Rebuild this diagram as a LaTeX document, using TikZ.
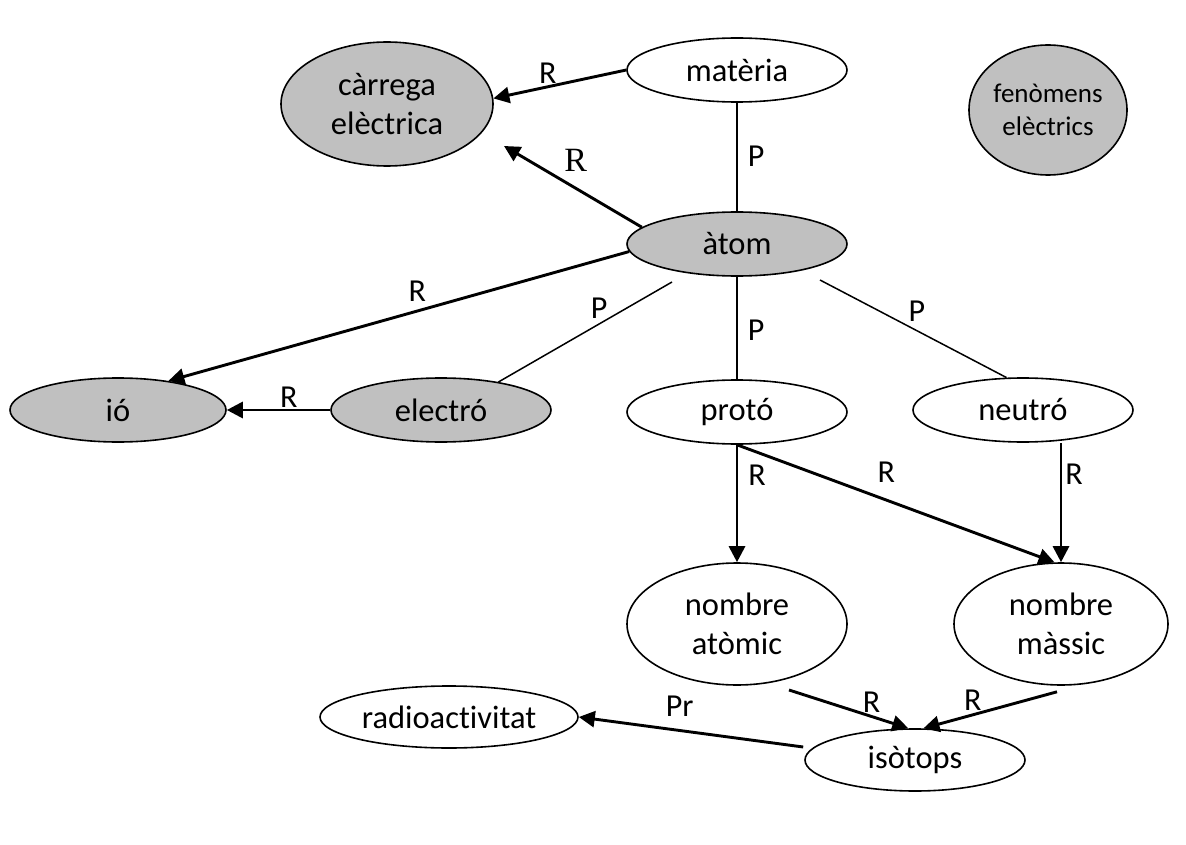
\documentclass[tikz,border=0pt]{standalone}
\usepackage{fontspec}
\setmainfont[Ligatures=NoCommon]{Carlito}
\newfontfamily\timesR{Liberation Serif}
\usetikzlibrary{shapes.geometric,arrows.meta,calc}
\definecolor{conceptgray}{RGB}{192,192,192}
\begin{document}
\begin{tikzpicture}[x=1pt,y=-1pt,
  concept/.style={ellipse,draw=black,line width=1.6pt,inner sep=0pt,align=center,
    font=\fontsize{32.5}{39}\selectfont},
  keyc/.style={concept,fill=conceptgray},
  openc/.style={concept,fill=white},
  rel/.style={line width=2.9pt,-{Triangle[length=16pt,width=16pt]}},
  part/.style={line width=1.5pt},
  lbl/.style={font=\fontsize{32}{36}\selectfont,inner sep=1pt},
]
\path[use as bounding box] (0,0) rectangle (1186,845);

% concepts
\node[keyc,minimum width=212pt,minimum height=124pt] (carrega) at (387,104) {càrrega\\elèctrica};
\node[openc,minimum width=220pt,minimum height=64pt] (matter) at (737,70) {matèria};
\node[keyc,minimum width=158pt,minimum height=130pt,font=\fontsize{27}{33}\selectfont] (fenomens) at (1048,110) {fenòmens\\elèctrics};
\node[keyc,minimum width=220pt,minimum height=64pt] (atom) at (737,244) {àtom};
\node[keyc,minimum width=216pt,minimum height=64pt] (io) at (118,410) {ió};
\node[keyc,minimum width=220pt,minimum height=64pt] (electron) at (441,410) {electró};
\node[openc,minimum width=220pt,minimum height=64pt] (proton) at (737,412) {protó};
\node[openc,minimum width=220pt,minimum height=64pt] (neutron) at (1023,410) {neutró};
\node[openc,minimum width=220pt,minimum height=122pt] (natomic) at (737,624) {nombre\\atòmic};
\node[openc,minimum width=214pt,minimum height=122pt] (nmassic) at (1061,624) {nombre\\màssic};
\node[openc,minimum width=258pt,minimum height=62pt] (radio) at (449,717) {radioactivitat};
\node[openc,minimum width=220pt,minimum height=62pt] (isotops) at (915,760) {isòtops};

\coordinate (chargeend) at (504,146);

% links
\draw[rel] (matter.west) -- node[lbl,pos=0.59,above=1pt]{R} (carrega.3);
\draw[part] (matter.south) -- node[lbl,pos=0.49,right=9pt]{P} (atom.north);
\draw[rel] (atom.170) -- node[lbl,pos=0.48,above=14pt,font=\timesR\fontsize{34}{36}\selectfont]{R} (chargeend);
\draw[rel] (atom.184) -- node[lbl,pos=0.46,above=7pt]{R} (io.30);
\draw[part] ($(atom)+(-65,38)$) -- node[lbl,pos=0.42,above=4pt]{P} (electron.26);
\draw[part] (atom.south) -- node[lbl,pos=0.52,right=9pt]{P} (proton.north);
\draw[part] ($(atom)+(83,36)$) -- node[lbl,pos=0.52,above=7pt]{P} (neutron.117);
\draw[rel] (electron.west) -- node[lbl,pos=0.4,above]{R} (io.east);
\draw[rel] (proton.south) -- node[lbl,pos=0.26,right=9pt]{R} (natomic.north);
\draw[rel] (proton.south) -- node[lbl,pos=0.47,above=15pt]{R} (nmassic.96);
\draw[rel] (nmassic.north |- neutron.south) -- node[lbl,pos=0.26,right=2pt]{R} (nmassic.north);
\draw[rel] ($(natomic)+(52,66)$) -- node[lbl,pos=0.65,xshift=5pt,yshift=13pt]{R} (isotops.102);
\draw[rel] ($(nmassic.south)+(-4,6)$) -- node[lbl,pos=0.6,xshift=-4pt,yshift=13pt]{R} (isotops.75);
\draw[rel] ($(isotops.west)+(-1,-13)$) -- node[lbl,pos=0.55,above=12pt]{Pr} (radio.east);
\end{tikzpicture}
\end{document}
